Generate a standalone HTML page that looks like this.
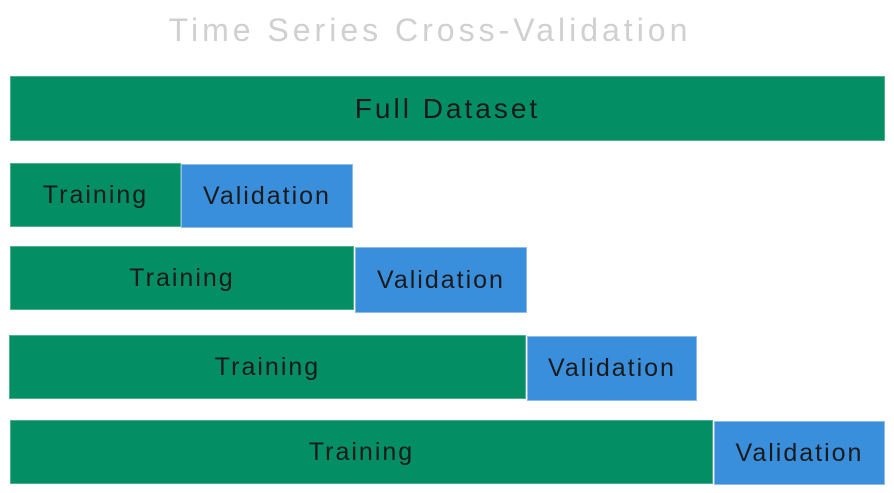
<!DOCTYPE html>
<html><head><style>
body{margin:0;width:894px;height:493px;background:#fff;position:relative;overflow:hidden;font-family:"Liberation Sans",sans-serif}
.b{position:absolute;display:flex;align-items:center;justify-content:center;color:#1a1a1a;font-size:25px;letter-spacing:2px;box-sizing:border-box}
.g{background:#038f63;border:1px solid #4fb08f}
.v{background:#3a8fdd;border:1px solid #8ebbe8}
.t{position:absolute;left:0;width:860px;top:12px;text-align:center;color:#d0d0d0;font-size:32px;letter-spacing:4px}
</style></head><body>
<div class="t">Time Series Cross-Validation</div>
<div class="b g" style="left:10px;top:76px;width:875px;height:65px;font-size:28px;letter-spacing:3px">Full Dataset</div>
<div class="b g" style="left:10px;top:163px;width:171px;height:64px">Training</div>
<div class="b v" style="left:181px;top:164px;width:172px;height:64px">Validation</div>
<div class="b g" style="left:10px;top:246px;width:344px;height:64px">Training</div>
<div class="b v" style="left:355px;top:247px;width:172px;height:66px">Validation</div>
<div class="b g" style="left:9px;top:335px;width:517px;height:64px">Training</div>
<div class="b v" style="left:527px;top:336px;width:170px;height:65px">Validation</div>
<div class="b g" style="left:10px;top:420px;width:703px;height:64px">Training</div>
<div class="b v" style="left:714px;top:421px;width:171px;height:64px">Validation</div>
</body></html>
